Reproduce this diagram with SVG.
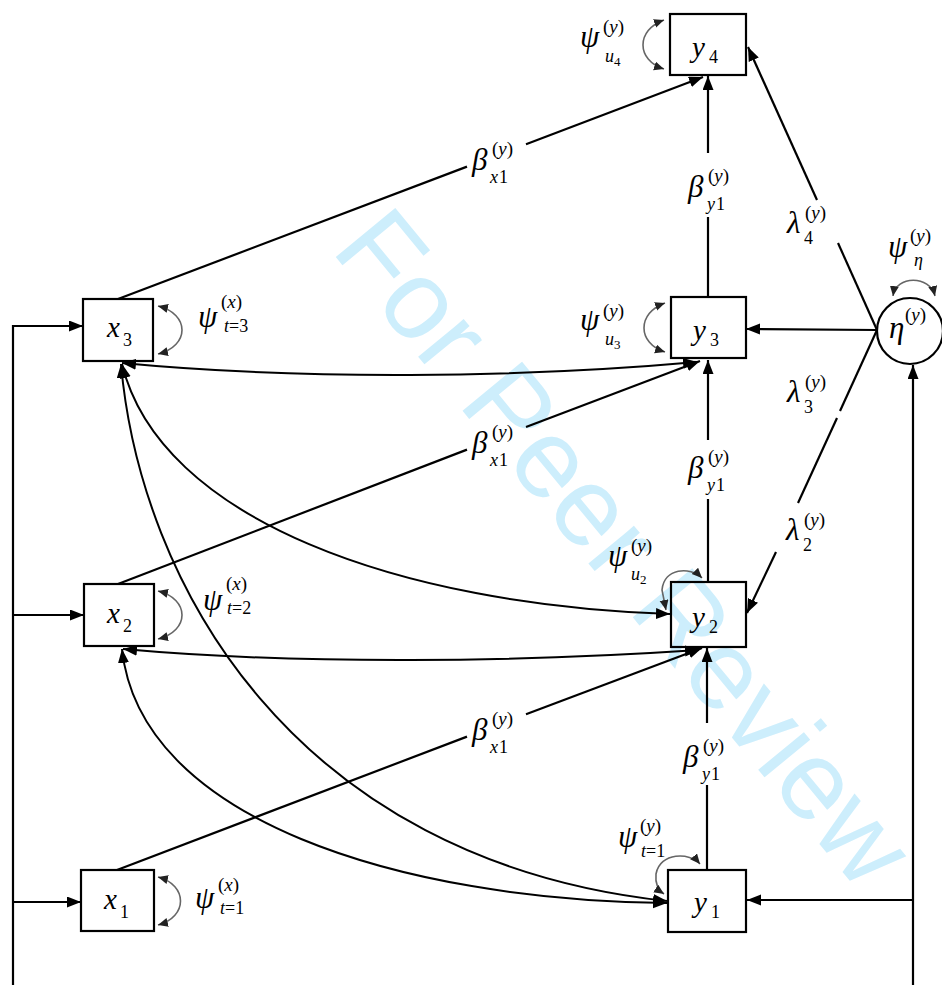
<svg xmlns="http://www.w3.org/2000/svg" width="942" height="985" viewBox="0 0 942 985">
<style>
.bg{fill:#fff}
.wm{font-family:"Liberation Sans",Arial,sans-serif;font-size:112px;fill:#cdeefc}
.box{fill:none;stroke:#000;stroke-width:2.2}
.ln{fill:none;stroke:#000;stroke-width:2.2}
.cv{fill:none;stroke:#000;stroke-width:2}
.sl{fill:none;stroke:#666;stroke-width:1.6}
text{font-family:'Liberation Serif','Times New Roman',Times,'DejaVu Serif',serif;fill:#000}
.v{font-style:italic;font-size:29px}
.g{font-style:italic;font-size:31px}
.n{font-size:13px}
.sup{font-size:19px}
.si{font-style:italic;font-size:18px}
.sn{font-size:18px}
.it{font-style:italic}
</style>
<defs>
<marker id="ah" markerUnits="userSpaceOnUse" markerWidth="16" markerHeight="12" refX="14" refY="5.5" orient="auto-start-reverse" viewBox="0 0 16 12">
<path d="M0,0 L14,5.5 L0,11 z" fill="#000"/>
</marker>
<marker id="sh" markerUnits="userSpaceOnUse" markerWidth="12" markerHeight="10" refX="10" refY="4.5" orient="auto-start-reverse" viewBox="0 0 12 10">
<path d="M0,0 L10,4.5 L0,9 z" fill="#222"/>
</marker>
</defs>
<rect class="bg" x="0" y="0" width="942" height="985"/>
<text class="wm" transform="translate(330,250) rotate(50.5)">For Peer Review</text>

<g id="connectors">
<line class="ln" x1="13" y1="325" x2="13" y2="985"/>
<line class="ln" x1="13" y1="326" x2="83" y2="326" marker-end="url(#ah)"/>
<line class="ln" x1="13" y1="615" x2="84" y2="615" marker-end="url(#ah)"/>
<line class="ln" x1="13" y1="902" x2="81" y2="902" marker-end="url(#ah)"/>
<line class="ln" x1="913" y1="985" x2="913" y2="365" marker-end="url(#ah)"/>
<line class="ln" x1="913" y1="900" x2="747" y2="900" marker-end="url(#ah)"/>
<line class="ln" x1="877" y1="330" x2="746" y2="329" marker-end="url(#ah)"/>
<line class="ln" x1="877" y1="330" x2="838" y2="243"/>
<line class="ln" x1="817" y1="200" x2="748" y2="47" marker-end="url(#ah)"/>
<line class="ln" x1="877" y1="330" x2="840" y2="411"/>
<line class="ln" x1="837" y1="418" x2="798" y2="503"/>
<line class="ln" x1="776" y1="552" x2="747" y2="613" marker-end="url(#ah)"/>
<line class="ln" x1="118" y1="299" x2="467" y2="166.6"/>
<line class="ln" x1="526" y1="144.2" x2="703" y2="77" marker-end="url(#ah)"/>
<line class="ln" x1="118" y1="584" x2="467" y2="449.6"/>
<line class="ln" x1="526" y1="427" x2="700" y2="361" marker-end="url(#ah)"/>
<line class="ln" x1="117" y1="870" x2="467" y2="736.6"/>
<line class="ln" x1="526" y1="714.2" x2="702" y2="648" marker-end="url(#ah)"/>
<line class="ln" x1="708" y1="297" x2="708" y2="217"/>
<line class="ln" x1="708" y1="153" x2="708" y2="76" marker-end="url(#ah)"/>
<line class="ln" x1="708" y1="582" x2="708" y2="499"/>
<line class="ln" x1="708" y1="440" x2="708" y2="360" marker-end="url(#ah)"/>
<line class="ln" x1="707" y1="870" x2="707" y2="785"/>
<line class="ln" x1="707" y1="723" x2="707" y2="648" marker-end="url(#ah)"/>
<path class="cv" d="M122,363 C300,380 520,378 697,362" marker-start="url(#ah)" marker-end="url(#ah)"/>
<path class="cv" d="M122,364 C160,520 400,605 670,614" marker-start="url(#ah)" marker-end="url(#ah)"/>
<path class="cv" d="M121,364 C140,580 290,860 667,901" marker-start="url(#ah)" marker-end="url(#ah)"/>
<path class="cv" d="M123,649 C300,665 520,662 699,650" marker-start="url(#ah)" marker-end="url(#ah)"/>
<path class="cv" d="M122,649 C140,820 400,900 667,903" marker-start="url(#ah)" marker-end="url(#ah)"/>
<path class="sl" d="M664,20 C636,30 636,60 664,69" marker-start="url(#sh)" marker-end="url(#sh)"/>
<path class="sl" d="M158,306 C190,314 190,346 158,354" marker-start="url(#sh)" marker-end="url(#sh)"/>
<path class="sl" d="M158,591 C190,599 190,631 158,639" marker-start="url(#sh)" marker-end="url(#sh)"/>
<path class="sl" d="M158,877 C188,885 188,917 158,925" marker-start="url(#sh)" marker-end="url(#sh)"/>
<path class="sl" d="M665,303 C637,313 637,343 665,352" marker-start="url(#sh)" marker-end="url(#sh)"/>
<path class="sl" d="M702,578 C690,566 664,568 662,590 L666,610" marker-start="url(#sh)" marker-end="url(#sh)"/>
<path class="sl" d="M700,864 C690,852 660,852 656,874 C655,884 658,890 664,894" marker-start="url(#sh)" marker-end="url(#sh)"/>
<path class="sl" d="M893,296 C896,275 930,275 935,296" marker-start="url(#sh)" marker-end="url(#sh)"/>
</g>

<g id="node-y4">
<rect class="box" x="670" y="14" width="76" height="61"/>
<text class="v" x="692" y="57">y</text><text class="sn" x="709" y="63">4</text>
</g>
<g id="node-y3">
<rect class="box" x="671" y="297" width="75" height="61"/>
<text class="v" x="693" y="340">y</text><text class="sn" x="710" y="346">3</text>
</g>
<g id="node-y2">
<rect class="box" x="671" y="582" width="75" height="65"/>
<text class="v" x="692" y="627">y</text><text class="sn" x="709" y="633">2</text>
</g>
<g id="node-y1">
<rect class="box" x="668" y="870" width="78" height="62"/>
<text class="v" x="694" y="912">y</text><text class="sn" x="711" y="918">1</text>
</g>
<g id="node-x3">
<rect class="box" x="83" y="299" width="70" height="62"/>
<text class="v" x="107" y="337">x</text><text class="sn" x="123" y="346">3</text>
</g>
<g id="node-x2">
<rect class="box" x="84" y="584" width="70" height="62"/>
<text class="v" x="107" y="623">x</text><text class="sn" x="123" y="632">2</text>
</g>
<g id="node-x1">
<rect class="box" x="81" y="870" width="73" height="61"/>
<text class="v" x="104" y="909">x</text><text class="sn" x="120" y="918">1</text>
</g>
<g id="node-eta">
<circle cx="910" cy="331" r="33" fill="none" stroke="#000" stroke-width="2.2"/>
<text class="g" x="889" y="338">η</text><text class="sup" x="905" y="321">(<tspan class="it">y</tspan>)</text>
</g>

<g id="labels">
<text class="g" x="580" y="47">ψ</text><text class="sup" x="603" y="33">(<tspan class="it">y</tspan>)</text><text class="si" x="605" y="62">u</text><text class="n" x="614" y="66">4</text>
<text class="g" x="580" y="330">ψ</text><text class="sup" x="603" y="317">(<tspan class="it">y</tspan>)</text><text class="si" x="605" y="345">u</text><text class="n" x="614" y="349">3</text>
<text class="g" x="608" y="566">ψ</text><text class="sup" x="631" y="552">(<tspan class="it">y</tspan>)</text><text class="si" x="631" y="580">u</text><text class="n" x="640" y="584">2</text>
<text class="g" x="618" y="847">ψ</text><text class="sup" x="640" y="832">(<tspan class="it">y</tspan>)</text><text class="si" x="641" y="857">t</text><text class="sn" x="646" y="857">=1</text>
<text class="g" x="888" y="257">ψ</text><text class="sup" x="910" y="242">(<tspan class="it">y</tspan>)</text><text class="si" x="914" y="266">η</text>
<text class="g" x="198" y="327">ψ</text><text class="sup" x="221" y="308">(<tspan class="it">x</tspan>)</text><text class="si" x="224" y="332">t</text><text class="sn" x="229" y="332">=3</text>
<text class="g" x="203" y="610">ψ</text><text class="sup" x="226" y="590">(<tspan class="it">x</tspan>)</text><text class="si" x="227" y="614">t</text><text class="sn" x="232" y="614">=2</text>
<text class="g" x="195" y="908">ψ</text><text class="sup" x="218" y="891">(<tspan class="it">x</tspan>)</text><text class="si" x="220" y="914">t</text><text class="sn" x="225" y="914">=1</text>
<text class="g" x="787" y="233">λ</text><text class="sup" x="805" y="219">(<tspan class="it">y</tspan>)</text><text class="sn" x="804" y="244">4</text>
<text class="g" x="787" y="402">λ</text><text class="sup" x="805" y="388">(<tspan class="it">y</tspan>)</text><text class="sn" x="804" y="413">3</text>
<text class="g" x="786" y="540">λ</text><text class="sup" x="804" y="526">(<tspan class="it">y</tspan>)</text><text class="sn" x="803" y="551">2</text>
<text class="g" x="472" y="170">β</text><text class="sup" x="492" y="155">(<tspan class="it">y</tspan>)</text><text class="si" x="490" y="183">x</text><text class="sn" x="499" y="183">1</text>
<text class="g" x="472" y="453">β</text><text class="sup" x="492" y="438">(<tspan class="it">y</tspan>)</text><text class="si" x="490" y="466">x</text><text class="sn" x="499" y="466">1</text>
<text class="g" x="472" y="740">β</text><text class="sup" x="492" y="725">(<tspan class="it">y</tspan>)</text><text class="si" x="490" y="753">x</text><text class="sn" x="499" y="753">1</text>
<text class="g" x="688" y="197">β</text><text class="sup" x="708" y="182">(<tspan class="it">y</tspan>)</text><text class="si" x="707" y="210">y</text><text class="sn" x="716" y="210">1</text>
<text class="g" x="688" y="478">β</text><text class="sup" x="708" y="463">(<tspan class="it">y</tspan>)</text><text class="si" x="707" y="491">y</text><text class="sn" x="716" y="491">1</text>
<text class="g" x="683" y="767">β</text><text class="sup" x="703" y="752">(<tspan class="it">y</tspan>)</text><text class="si" x="702" y="780">y</text><text class="sn" x="711" y="780">1</text>
</g>
</svg>
